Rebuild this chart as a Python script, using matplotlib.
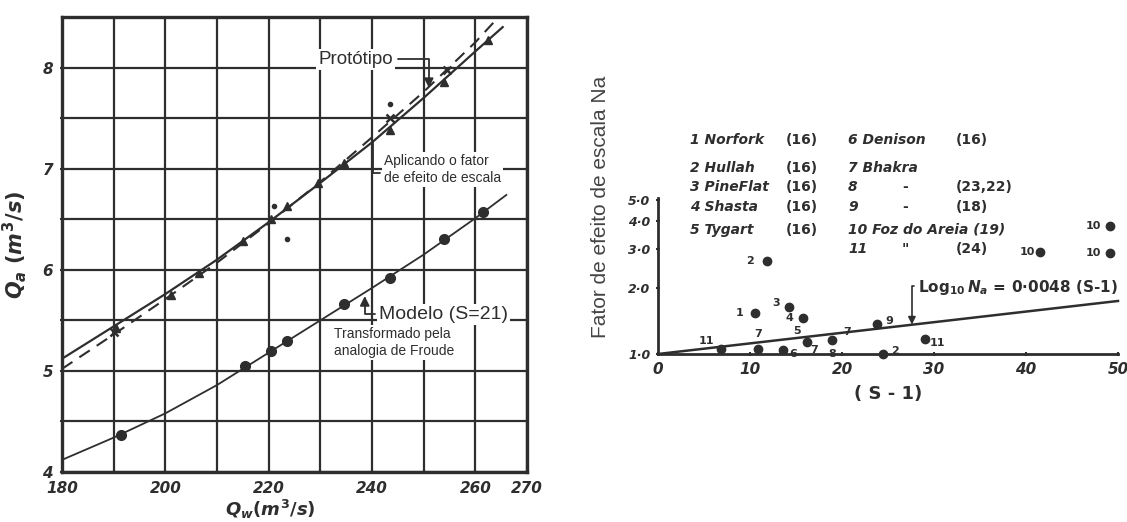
import numpy as np
import matplotlib
matplotlib.use("Agg")
import matplotlib.pyplot as plt
from matplotlib.ticker import NullLocator, FixedLocator

plt.rcParams['font.family'] = ['DejaVu Sans']
plt.rcParams['mathtext.fontset'] = 'custom'
plt.rcParams['mathtext.it'] = 'DejaVu Sans:italic:bold'
plt.rcParams['mathtext.rm'] = 'DejaVu Sans:bold'
plt.rcParams['mathtext.bf'] = 'DejaVu Sans:bold'

INK = '#2e2e2e'
W, H = 1127, 522

# ---- left chart: Qa vs Qw ----
proto_x = [180, 190, 200, 210, 220, 230, 240, 250, 260, 265.3]
proto_y = [5.12, 5.44, 5.76, 6.10, 6.47, 6.86, 7.26, 7.70, 8.16, 8.40]
scaled_x = [180, 190, 200, 210, 220, 230, 240, 250, 260, 264.5]
scaled_y = [5.02, 5.36, 5.71, 6.07, 6.46, 6.87, 7.31, 7.76, 8.25, 8.50]
model_x = [180, 190, 200, 210, 220, 230, 240, 250, 260, 266]
model_y = [4.12, 4.34, 4.58, 4.86, 5.18, 5.50, 5.82, 6.15, 6.51, 6.74]

proto_pts_x = [190.5, 201, 206.5, 215, 220.5, 223.5, 229.5, 234.5, 243.5, 254, 262.5]
proto_pts_y = [5.42, 5.75, 5.97, 6.28, 6.50, 6.63, 6.86, 7.06, 7.38, 7.86, 8.27]
cross_x = [190, 243.5, 254.5]
cross_y = [5.38, 7.50, 7.98]
stray_x = [221, 223.5, 243.5]
stray_y = [6.63, 6.30, 7.64]
model_pts_x = [191.5, 215.5, 220.5, 223.5, 234.5, 243.5, 254, 261.5]
model_pts_y = [4.37, 5.05, 5.20, 5.30, 5.66, 5.92, 6.30, 6.57]

grid_x = [180, 190, 200, 210, 220, 230, 240, 250, 260, 270]
grid_x_labels = ['180', '', '200', '', '220', '', '240', '', '260', '270']
grid_y = [4, 4.5, 5, 5.5, 6, 6.5, 7, 7.5, 8]
grid_y_labels = ['4', '', '5', '', '6', '', '7', '', '8']

# ---- right chart: scale effect factor ----
reg_s = [0, 50]
reg_na = [1.0, 1.74]
pt_s = [6.9, 10.9, 13.6, 16.2, 18.9, 23.8, 24.5, 29.0, 10.5, 14.2, 15.8, 11.8, 41.5, 49.1, 49.1]
pt_na = [1.05, 1.05, 1.04, 1.13, 1.16, 1.37, 1.00, 1.17, 1.53, 1.63, 1.46, 2.64, 2.89, 2.86, 3.79]
pt_lbl = ['11', '7', '6', '5', '8', '9', '2', '11', '1', '3', '4', '2', '10', '10', '10']
pt_off = [(-11, 6), (0, 11), (7, -3), (-7, 8), (0, -10), (9, 2), (8, 2), (9, -3),
          (-11, 0), (-9, 3), (-10, 0), (-12, 0), (-9, 0), (-12, 0), (-12, 0)]
extra_lbl = ['7', '7']
extra_s = [17.0, 20.6]
extra_na = [1.04, 1.26]

na_ticks = [1, 2, 3, 4, 5]
na_tick_labels = ['1·0', '2·0', '3·0', '4·0', '5·0']
s_ticks = [0, 10, 20, 30, 40, 50]

legend_left = ['1 Norfork', '2 Hullah', '3 PineFlat', '4 Shasta', '5 Tygart']
legend_left_ref = ['(16)', '(16)', '(16)', '(16)', '(16)']
legend_right = ['6 Denison', '7 Bhakra', '8', '9', '10 Foz do Areia (19)', '11']
legend_right_mid = ['', '', '-', '-', '', '"']
legend_right_ref = ['(16)', '', '(23,22)', '(18)', '', '(24)']
legend_rows = [140, 168, 187, 207, 230, 249]


def px(x, y):
    return x / W, 1 - y / H


fig = plt.figure(figsize=(W / 100, H / 100), dpi=100)
fig.patch.set_facecolor('white')

# left axes
ax = fig.add_axes([62 / W, 1 - 472 / H, 465 / W, 455 / H])
ax.set_xlim(180, 270)
ax.set_ylim(4, 8.5)
ax.set_xticks(grid_x)
ax.set_xticklabels(grid_x_labels)
ax.set_yticks(grid_y)
ax.set_yticklabels(grid_y_labels)
ax.grid(True, color=INK, lw=1.6)
for sp in ax.spines.values():
    sp.set_color(INK)
    sp.set_linewidth(2.4)
ax.tick_params(colors=INK, length=3, width=1.5, direction='inout', labelsize=11, pad=5)
for t in ax.get_xticklabels() + ax.get_yticklabels():
    t.set_fontweight('bold')
    t.set_fontstyle('italic')

ax.plot(proto_x, proto_y, color=INK, lw=1.6, zorder=3)
ax.plot(scaled_x, scaled_y, color=INK, lw=1.5, ls=(0, (6, 4)), zorder=3)
ax.plot(model_x, model_y, color=INK, lw=1.3, zorder=3)
ax.plot(proto_pts_x, proto_pts_y, '^', color=INK, ms=6, zorder=4)
ax.plot(cross_x, cross_y, 'x', color=INK, ms=6, mew=1.8, zorder=4)
ax.plot(stray_x, stray_y, 'o', color=INK, ms=3, zorder=4)
ax.plot(model_pts_x, model_pts_y, 'o', color=INK, ms=7, zorder=4)

box = dict(facecolor='white', edgecolor='none', pad=1.5)
ax.annotate('Protótipo', xy=(251, 7.80), xytext=(229.6, 8.08), fontsize=13.5,
            family='Liberation Sans', color=INK, va='center', ha='left', bbox=box,
            arrowprops=dict(arrowstyle='-|>', color=INK, lw=1.3, relpos=(1, 0.5),
                            connectionstyle='angle,angleA=0,angleB=90,rad=0',
                            shrinkA=2, shrinkB=0), zorder=5)
ax.annotate('Aplicando o fator\nde efeito de escala', xy=(240.2, 7.27), xytext=(242.3, 6.99),
            fontsize=10, family='Liberation Sans', color=INK, va='center', ha='left',
            linespacing=1.3, bbox=box,
            arrowprops=dict(arrowstyle='-', color=INK, lw=1.3, relpos=(0, 0.4),
                            connectionstyle='angle,angleA=180,angleB=90,rad=0',
                            shrinkA=1, shrinkB=0), zorder=5)
ax.annotate('Modelo (S=21)', xy=(238.6, 5.74), xytext=(241.3, 5.56), fontsize=14,
            family='Liberation Sans', color=INK, va='center', ha='left', bbox=box,
            arrowprops=dict(arrowstyle='-|>', color=INK, lw=1.3, relpos=(0, 0.5),
                            connectionstyle='angle,angleA=180,angleB=90,rad=0',
                            shrinkA=1, shrinkB=0), zorder=5)
ax.text(232.6, 5.28, 'Transformado pela\nanalogia de Froude', fontsize=10,
        family='Liberation Sans', color=INK, va='center', ha='left', linespacing=1.3,
        bbox=box, zorder=5)

ax.set_ylabel(r'$Q_a\ (m^3/s)$', fontsize=15, color=INK)
ax.yaxis.set_label_coords(-0.07, 0.5)
ax.set_xlabel(r'$Q_w(m^3/s)$', fontsize=13, color=INK)
ax.xaxis.set_label_coords(0.447, -0.058)

# right axes
ax2 = fig.add_axes([658 / W, 1 - 354 / H, 460 / W, 156 / H])
ax2.set_yscale('log')
ax2.set_xlim(0, 50)
ax2.set_ylim(1.0, 5.1)
ax2.yaxis.set_major_locator(FixedLocator(na_ticks))
ax2.yaxis.set_minor_locator(NullLocator())
ax2.set_yticklabels(na_tick_labels)
ax2.set_xticks(s_ticks)
ax2.set_xticklabels([str(v) for v in s_ticks])
for side in ['top', 'right']:
    ax2.spines[side].set_visible(False)
for side in ['left', 'bottom']:
    ax2.spines[side].set_color(INK)
    ax2.spines[side].set_linewidth(2.0)
ax2.tick_params(colors=INK, length=3, width=1.5, direction='inout', pad=4)
ax2.tick_params(axis='y', labelsize=9)
ax2.tick_params(axis='x', labelsize=11)
for t in ax2.get_xticklabels() + ax2.get_yticklabels():
    t.set_fontweight('bold')
    t.set_fontstyle('italic')

ax2.plot(reg_s, reg_na, color=INK, lw=1.8, zorder=3, clip_on=False)
ax2.plot(pt_s, pt_na, 'o', color=INK, ms=6, zorder=4, clip_on=False)
for s, v, lab, off in zip(pt_s, pt_na, pt_lbl, pt_off):
    ax2.annotate(lab, (s, v), xytext=off, textcoords='offset points', fontsize=8,
                 fontweight='bold', color=INK, ha='center', va='center')
for lab, s, v in zip(extra_lbl, extra_s, extra_na):
    ax2.text(s, v, lab, fontsize=8, fontweight='bold', color=INK, ha='center', va='center')

ax2.annotate(r'$\mathrm{Log}_{10}\,N_a$ = 0·0048 (S-1)', xy=(27.6, 1.36), xytext=(28.3, 2.01),
             fontsize=11, fontweight='bold', color=INK, va='center', ha='left',
             arrowprops=dict(arrowstyle='-|>', color=INK, lw=1.2, relpos=(0, 0.55),
                             connectionstyle='angle,angleA=180,angleB=90,rad=0',
                             shrinkA=1, shrinkB=0))

ax2.set_xlabel('( S - 1)', fontsize=13, fontweight='bold', color=INK, labelpad=6)
fig.text(*px(600, 207), 'Fator de efeito de escala Na', rotation=90, fontsize=15,
         family='Liberation Sans', color='#444444', ha='center', va='center')

for name, ref, y in zip(legend_left, legend_left_ref, legend_rows):
    fig.text(*px(690, y), name, fontsize=10, fontweight='bold', fontstyle='italic',
             color=INK, ha='left', va='center')
    fig.text(*px(786, y), ref, fontsize=10, fontweight='bold', color=INK, ha='left', va='center')
for name, mid, ref, y in zip(legend_right, legend_right_mid, legend_right_ref, legend_rows):
    fig.text(*px(848, y), name, fontsize=10, fontweight='bold', fontstyle='italic',
             color=INK, ha='left', va='center')
    if mid:
        fig.text(*px(902, y), mid, fontsize=10, fontweight='bold', color=INK, ha='left', va='center')
    if ref:
        fig.text(*px(956, y), ref, fontsize=10, fontweight='bold', color=INK, ha='left', va='center')

fig.savefig('out.png', dpi=100, facecolor='white')
